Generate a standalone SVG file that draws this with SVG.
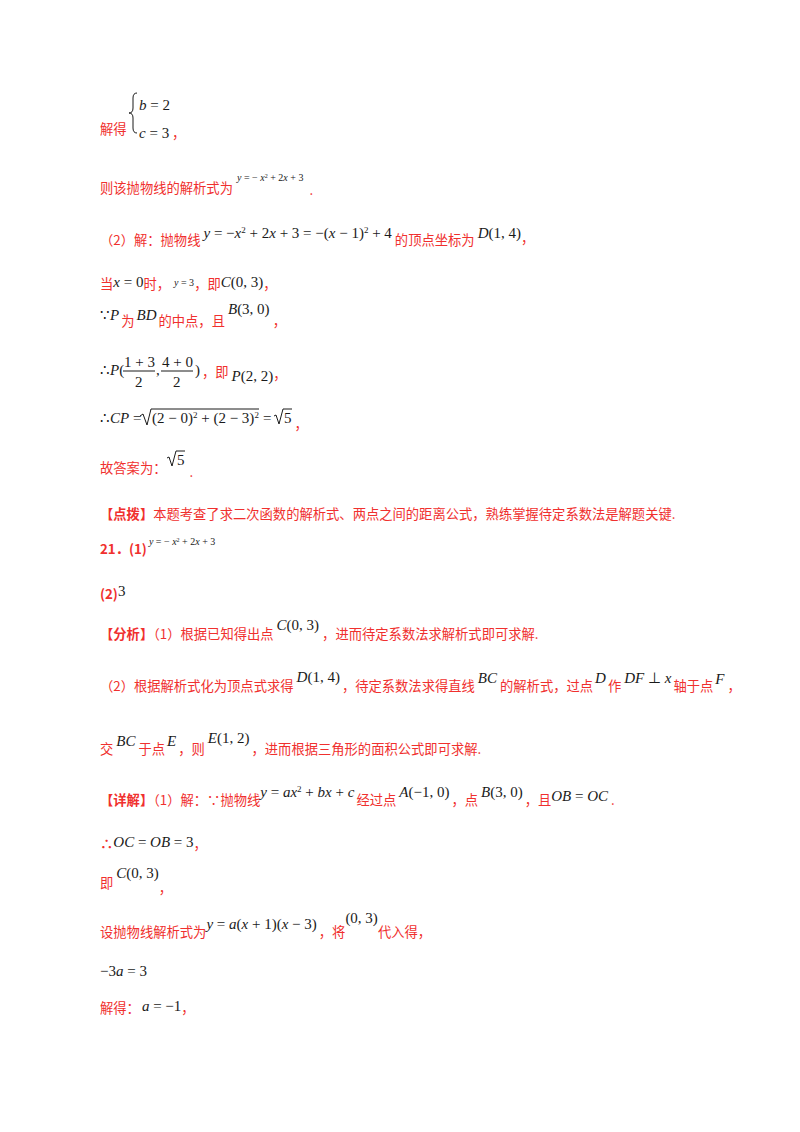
<svg xmlns="http://www.w3.org/2000/svg" width="800" height="1132" viewBox="0 0 800 1132">
<style>
text{font-family:"Noto Sans CJK SC","Noto Sans",sans-serif;font-size:13.3px;fill:#f0302e}
.b{font-weight:bold}
.m{fill:#1a1a1a;font-family:"Liberation Serif",serif;font-size:15px}
.n{fill:#1a1a1a;font-family:"Liberation Serif",serif;font-size:10px}
.i{font-style:italic}
.sup{font-size:9px;baseline-shift:super}
.sup2{font-size:6px;baseline-shift:super}
</style>
<rect width="800" height="1132" fill="#fff"/>
<g id="l1">
<text x="100" y="134">解得</text>
<path d="M137,93 q-4,0 -4,5 v10 q0,5 -4,5 q4,0 4,5 v10 q0,5 4,5" fill="none" stroke="#1a1a1a" stroke-width="1"/>
<text class="m" x="139" y="110"><tspan class="i">b</tspan> = 2</text>
<text x="139" y="138"><tspan class="m"><tspan class="i">c</tspan> = 3</tspan> ，</text>
</g>
<g id="l2">
<text x="100" y="193">则该抛物线的解析式为<tspan class="n" dy="-12" dx="4"><tspan class="i">y</tspan> = − <tspan class="i">x</tspan><tspan class="sup2">2</tspan> + 2<tspan class="i">x</tspan> + 3</tspan><tspan dy="14" dx="6">.</tspan></text>
</g>
<g id="l3">
<text x="100" y="245">（2）解：抛物线<tspan class="m" dy="-7" dx="3"><tspan class="i">y</tspan> = −<tspan class="i">x</tspan><tspan class="sup">2</tspan> + 2<tspan class="i">x</tspan> + 3 = −(<tspan class="i">x</tspan> − 1)<tspan class="sup">2</tspan> + 4</tspan><tspan dy="7" dx="3">的顶点坐标为</tspan><tspan class="m" dy="-7" dx="3"><tspan class="i">D</tspan>(1, 4)</tspan><tspan dy="5">，</tspan></text>
</g>
<g id="l4">
<text x="100" y="289">当<tspan class="m" dy="-2"><tspan class="i">x</tspan> = 0</tspan><tspan dy="2">时，</tspan><tspan class="n" dy="-3" dx="4"><tspan class="i">y</tspan> = 3</tspan><tspan dy="3">，即</tspan><tspan class="m" dy="-2"><tspan class="i">C</tspan>(0, 3)</tspan><tspan dy="2">，</tspan></text>
</g>
<g id="l5">
<text x="100" y="326"><tspan class="m" dy="-6">∵<tspan class="i">P</tspan></tspan><tspan dy="6" dx="2">为</tspan><tspan class="m" dy="-6" dx="2"><tspan class="i">BD</tspan></tspan><tspan dy="6" dx="2">的中点，且</tspan><tspan class="m" dy="-12" dx="3"><tspan class="i">B</tspan>(3, 0)</tspan><tspan dy="12" dx="3">，</tspan></text>
</g>
<g id="l6">
<text class="m" x="100" y="375">∴<tspan class="i">P</tspan>(</text>
<text class="m" x="124" y="367">1 + 3</text>
<line x1="123" y1="371" x2="155" y2="371" stroke="#1a1a1a"/>
<text class="m" x="135" y="387">2</text>
<text class="m" x="156" y="375">,</text>
<text class="m" x="162" y="367">4 + 0</text>
<line x1="161" y1="371" x2="193" y2="371" stroke="#1a1a1a"/>
<text class="m" x="173" y="387">2</text>
<text x="195" y="377"><tspan class="m" dy="-2">)</tspan><tspan dy="2" dx="2">，即</tspan><tspan class="m" dx="3" dy="4" font-size="12"><tspan class="i">P</tspan>(2, 2)</tspan><tspan dy="-2">，</tspan></text>
</g>
<g id="l7">
<text class="m" x="100" y="423">∴<tspan class="i">CP</tspan> =</text>
<path d="M140,416 l3,-2 l4,11 l4,-16 h108" fill="none" stroke="#1a1a1a" stroke-width="1"/>
<text class="m" x="152" y="423">(2 − 0)<tspan class="sup">2</tspan> + (2 − 3)<tspan class="sup">2</tspan></text>
<text class="m" x="263" y="423">=</text>
<path d="M274,416 l2,-1 l3,9 l4,-15 h9" fill="none" stroke="#1a1a1a" stroke-width="1"/>
<text x="284" y="423"><tspan class="m">5</tspan><tspan dy="6" dx="3">，</tspan></text>
</g>
<g id="l8">
<text x="100" y="473">故答案为：</text>
<path d="M167,458 l2,-1 l3,9 l4,-15 h9" fill="none" stroke="#1a1a1a" stroke-width="1"/>
<text x="177" y="465"><tspan class="m">5</tspan><tspan dy="12" dx="5">.</tspan></text>
</g>
<g id="l9">
<text x="100" y="519"><tspan class="b">【点拨】</tspan>本题考查了求二次函数的解析式、两点之间的距离公式，熟练掌握待定系数法是解题关键.</text>
</g>
<g id="l10">
<text x="100" y="554"><tspan class="b">21．(1)</tspan><tspan class="n" dy="-9" dx="2"><tspan class="i">y</tspan> = − <tspan class="i">x</tspan><tspan class="sup2">2</tspan> + 2<tspan class="i">x</tspan> + 3</tspan></text>
</g>
<g id="l11">
<text x="100" y="599"><tspan class="b">(2)</tspan><tspan class="m" dy="-3">3</tspan></text>
</g>
<g id="l12">
<text x="100" y="639"><tspan class="b">【分析】</tspan>（1）根据已知得出点<tspan class="m" dy="-9" dx="3"><tspan class="i">C</tspan>(0, 3)</tspan><tspan dy="9" dx="3">，进而待定系数法求解析式即可求解.</tspan></text>
</g>
<g id="l13">
<text x="100" y="691">（2）根据解析式化为顶点式求得<tspan class="m" dy="-9" dx="3"><tspan class="i">D</tspan>(1, 4)</tspan><tspan dy="9" dx="2">，待定系数法求得直线</tspan><tspan class="m" dy="-8" dx="3" font-size="13"><tspan class="i">BC</tspan></tspan><tspan dy="8" dx="3">的解析式，过点</tspan><tspan class="m" dy="-8" dx="2" font-size="13"><tspan class="i">D</tspan></tspan><tspan dy="8" dx="2">作</tspan><tspan class="m" dy="-8" dx="3" font-size="13"><tspan class="i">DF</tspan> ⊥ <tspan class="i">x</tspan></tspan><tspan dy="8" dx="2">轴于点</tspan><tspan class="m" dy="-7" dx="2" font-size="13"><tspan class="i">F</tspan></tspan><tspan dy="7" dx="3">，</tspan></text>
</g>
<g id="l14">
<text x="100" y="754">交<tspan class="m" dy="-8" dx="3" font-size="13"><tspan class="i">BC</tspan></tspan><tspan dy="8" dx="3">于点</tspan><tspan class="m" dy="-8" dx="2" font-size="13"><tspan class="i">E</tspan></tspan><tspan dy="8" dx="2">，则</tspan><tspan class="m" dy="-11" dx="3"><tspan class="i">E</tspan>(1, 2)</tspan><tspan dy="11" dx="2">，进而根据三角形的面积公式即可求解.</tspan></text>
</g>
<g id="l15">
<text x="100" y="805"><tspan class="b">【详解】</tspan>（1）解：∵抛物线<tspan class="m" dy="-8" font-size="13"><tspan class="i">y</tspan> = <tspan class="i">ax</tspan><tspan class="sup">2</tspan> + <tspan class="i">bx</tspan> + <tspan class="i">c</tspan></tspan><tspan dy="8" dx="2">经过点</tspan><tspan class="m" dy="-8" dx="3" font-size="14"><tspan class="i">A</tspan>(−1, 0)</tspan><tspan dy="8" dx="2">，点</tspan><tspan class="m" dy="-8" dx="3" font-size="14"><tspan class="i">B</tspan>(3, 0)</tspan><tspan dy="8" dx="2">，且</tspan><tspan class="m" dy="-4" font-size="14"><tspan class="i">OB</tspan> = <tspan class="i">OC</tspan></tspan><tspan dy="4" dx="3">.</tspan></text>
</g>
<g id="l16">
<text x="100" y="849"><tspan class="b">∴</tspan><tspan class="m" dy="-2" font-size="14"><tspan class="i">OC</tspan> = <tspan class="i">OB</tspan> = 3</tspan><tspan dy="2">，</tspan></text>
</g>
<g id="l17">
<text x="100" y="888">即<tspan class="m" dy="-10" dx="3" font-size="14"><tspan class="i">C</tspan>(0, 3)</tspan><tspan dy="15">，</tspan></text>
</g>
<g id="l18">
<text x="100" y="937">设抛物线解析式为<tspan class="m" dy="-8" font-size="14"><tspan class="i">y</tspan> = <tspan class="i">a</tspan>(<tspan class="i">x</tspan> + 1)(<tspan class="i">x</tspan> − 3)</tspan><tspan dy="8" dx="2">，将</tspan><tspan class="m" dy="-14" font-size="14">(0, 3)</tspan><tspan dy="14">代入得，</tspan></text>
</g>
<g id="l19">
<text class="m" x="100" y="976" font-size="14">−3<tspan class="i">a</tspan> = 3</text>
</g>
<g id="l20">
<text x="100" y="1013">解得：<tspan class="m" dy="-2" dx="2" font-size="14"><tspan class="i">a</tspan> = −1</tspan><tspan dy="2">，</tspan></text>
</g>
</svg>
